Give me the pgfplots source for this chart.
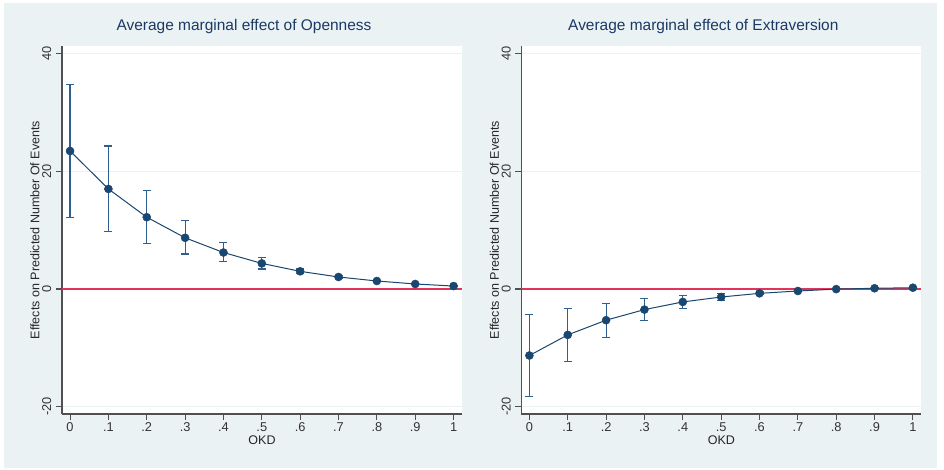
\documentclass[border=0pt]{standalone}
\usepackage{pgfplots}
\usepackage{pgfplotstable}
\pgfplotsset{compat=1.18}
\usepackage{fontspec}
\setmainfont{Liberation Sans}
\definecolor{stbg}{HTML}{EAF2F3}
\definecolor{stnavy}{HTML}{1A476F}
\definecolor{sterr}{HTML}{2F5F8E}
\definecolor{stred}{HTML}{E0345A}
\definecolor{sttitle}{HTML}{1C3966}
\definecolor{staxis}{HTML}{505050}

\pgfplotstableread{
x y up lo
0 23.45 34.7 12.2
0.1 17.0 24.3 9.8
0.2 12.2 16.8 7.8
0.3 8.7 11.6 5.95
0.4 6.2 7.9 4.6
0.5 4.35 5.3 3.4
0.6 3.0 3.4 2.6
0.7 2.04 2.25 1.85
0.8 1.36 1.45 1.27
0.9 0.85 0.9 0.8
1 0.5 0.55 0.45
}\openness

\pgfplotstableread{
x y up lo
0 -11.3 -4.4 -18.2
0.1 -7.8 -3.3 -12.3
0.2 -5.3 -2.4 -8.2
0.3 -3.5 -1.65 -5.3
0.4 -2.2 -1.1 -3.3
0.5 -1.36 -0.8 -1.9
0.6 -0.74 -0.5 -0.98
0.7 -0.34 -0.2 -0.48
0.8 -0.02 0.05 -0.09
0.9 0.12 0.17 0.07
1 0.22 0.28 0.16
}\extraversion

\pgfplotsset{
  statastyle/.style={
    scale only axis,
    width=300pt, height=276pt,
    anchor=south west,
    xmin=-0.021, xmax=1.022,
    ymin=-21.24, ymax=41.29,
    axis x line*=bottom, axis y line*=left,
    axis line style={staxis, line width=1pt},
    axis background/.style={fill=white},
    tick align=outside,
    major tick length=4.5pt,
    tick style={staxis, line width=0.8pt},
    xtick={0,0.1,0.2,0.3,0.4,0.5,0.6,0.7,0.8,0.9,1},
    xticklabels={0,.1,.2,.3,.4,.5,.6,.7,.8,.9,1},
    ytick={-20,0,20,40},
    yticklabels={-20,0,20,40},
    ymajorgrids,
    grid style={stbg, line width=0.8pt},
    tick label style={font=\fontsize{9.6}{10}\selectfont, text=black!80},
    yticklabel style={rotate=90, anchor=south},
    xticklabel style={yshift=1.5pt},
    label style={font=\fontsize{9.4}{10}\selectfont, text=black!85},
    xlabel={OKD},
    ylabel={Effects on Predicted Number Of Events},
    xlabel style={at={(axis description cs:0.5,0)}, anchor=center, yshift=-19.5pt},
    ylabel style={at={(axis description cs:0,0.5)}, anchor=center, yshift=20.25pt},
    title style={at={(axis description cs:0.5,1)}, anchor=center, xshift=-13.5pt, yshift=8.5pt,
      font=\fontsize{11.6}{12}\selectfont, text=sttitle},
  },
  effplot/.style={stnavy, line width=0.75pt, mark=*, mark size=3pt,
    mark options={fill=stnavy, draw=stnavy, line width=0.4pt},
    error bars/.cd, y dir=both, y explicit,
    error bar style={draw=sterr, line width=0.85pt},
    error mark options={draw=sterr, rotate=90, mark size=3pt, line width=0.85pt}},
}

\begin{document}
\begin{tikzpicture}
\path[use as bounding box] (0pt,0pt) rectangle (708pt,352.5pt);
\fill[stbg] (3pt,1.5pt) rectangle (702.75pt,350.25pt);

\begin{axis}[statastyle, at={(46.5pt,42pt)}, title={Average marginal effect of Openness}]
\addplot[stred, line width=0.9pt] coordinates {(-0.021,0) (1.022,0)};
\addplot[effplot] table[x=x, y=y,
  y error plus expr=\thisrow{up}-\thisrow{y},
  y error minus expr=\thisrow{y}-\thisrow{lo}] {\openness};
\end{axis}

\begin{axis}[statastyle, at={(391pt,42pt)}, title={Average marginal effect of Extraversion}]
\addplot[stred, line width=0.9pt] coordinates {(-0.021,0) (1.022,0)};
\addplot[effplot] table[x=x, y=y,
  y error plus expr=\thisrow{up}-\thisrow{y},
  y error minus expr=\thisrow{y}-\thisrow{lo}] {\extraversion};
\end{axis}
\end{tikzpicture}
\end{document}
